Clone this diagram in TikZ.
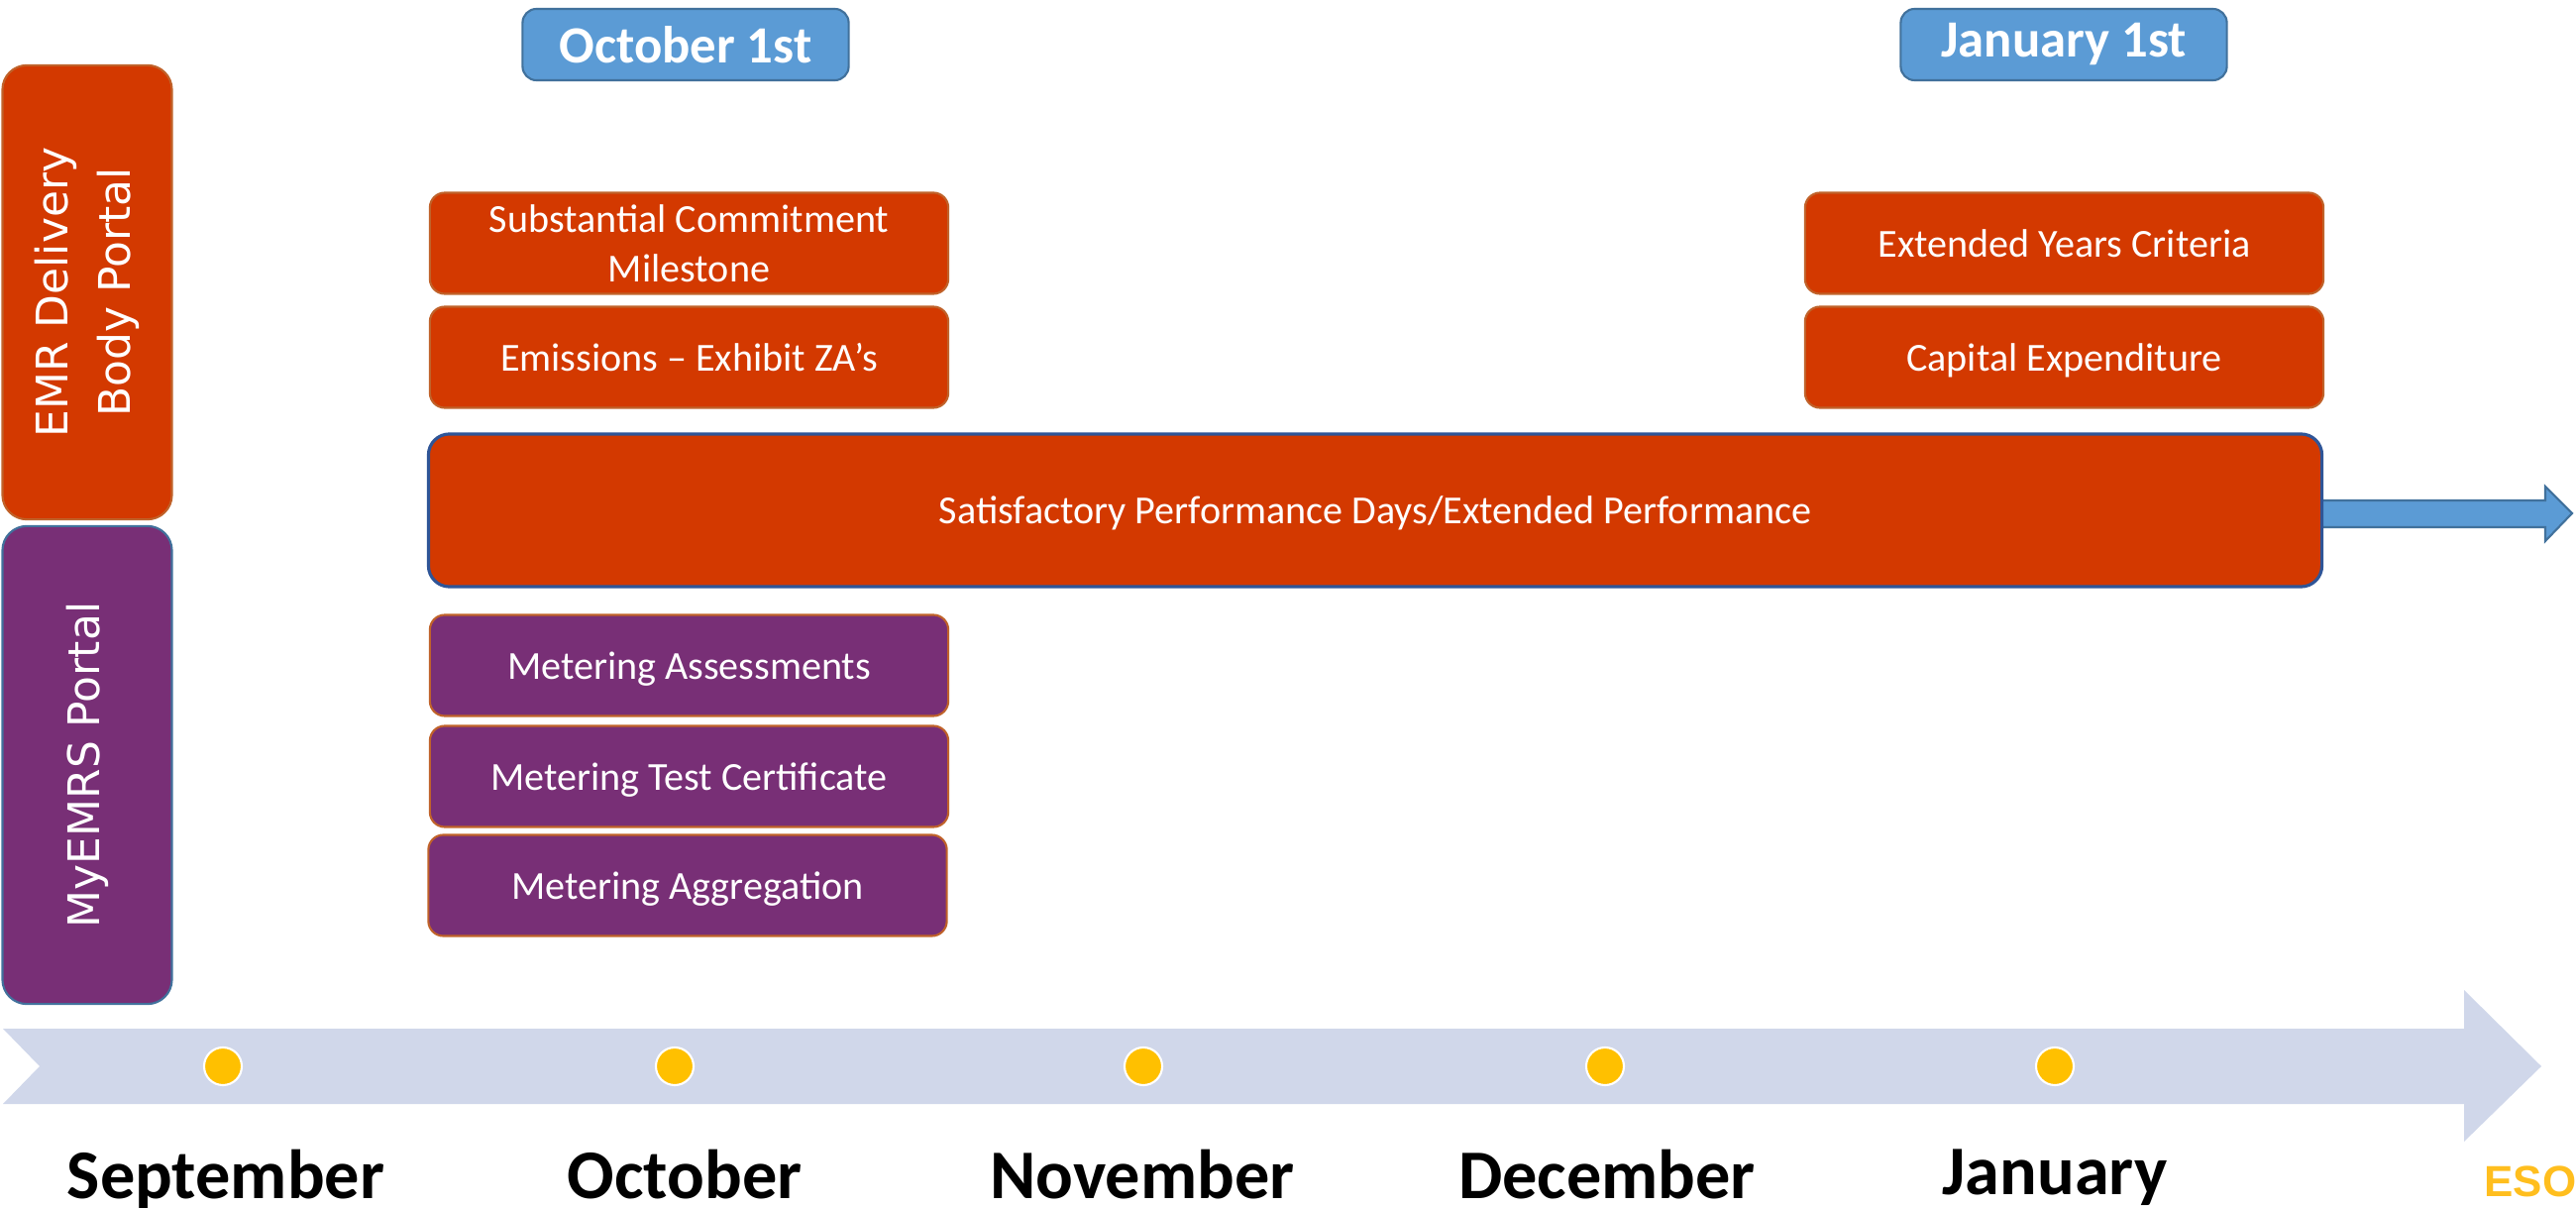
\documentclass[tikz,border=0pt]{standalone}
\usepackage{fontspec}
\setmainfont{Carlito}
\newfontfamily\verdfont{DejaVu Sans}
\newfontfamily\arialfont{Liberation Sans}
\usetikzlibrary{calc}
\definecolor{ored}{HTML}{D33900}
\definecolor{oedge}{HTML}{C0622A}
\definecolor{purp}{HTML}{782F76}
\definecolor{bluef}{HTML}{5B9BD5}
\definecolor{blueedge}{HTML}{41719C}
\definecolor{darkblue}{HTML}{2F5597}
\definecolor{band}{HTML}{D0D7EA}
\definecolor{dotc}{HTML}{FFC000}
\definecolor{esoc}{HTML}{FFBE1E}
\begin{document}
\begin{tikzpicture}[x=0.01cm,y=-0.01cm,
  obox/.style={draw=oedge, fill=ored, line width=0.6pt, rounded corners=4.3pt, text=white, align=center,
    font=\fontsize{11.4}{14.2}\selectfont, minimum width=5.23cm, minimum height=1.02cm, inner sep=0pt, text depth=0pt},
  pbox/.style={obox, fill=purp},
  datebox/.style={draw=blueedge, fill=bluef, line width=0.6pt, rounded corners=4pt, text=white,
    font=\bfseries\fontsize{15}{18}\selectfont, minimum width=3.29cm, minimum height=0.72cm, inner sep=0pt},
  sidebox/.style={rotate=90, rounded corners=7pt, text=white, align=center,
    font=\verdfont\fontsize{12.5}{18}\selectfont, minimum height=1.71cm, inner sep=0pt, line width=0.6pt},
  month/.style={anchor=base, font=\bfseries\fontsize{20}{24}\selectfont},
  tdot/.style={circle, fill=dotc, draw=white, line width=0.6pt, minimum size=0.38cm, inner sep=0pt}]
\useasboundingbox (0,0) rectangle (2600,1219);

% timeline band
\fill[band] (3,1038) -- (2487,1038) -- (2487,999) -- (2565,1076) -- (2487,1152) -- (2487,1114)
  -- (3,1114) -- (40,1076) -- cycle;

% date boxes
\node[datebox] (oct1) at (692,45) {October 1st};
\node[datebox] (jan1) at (2083,45) {January 1st};

% side boxes
\node[sidebox, fill=ored, draw=oedge, minimum width=4.58cm] (emr) at (88,295) {EMR Delivery\\Body Portal};
\node[sidebox, fill=purp, draw=blueedge, minimum width=4.82cm] (myemrs) at (88,772) {MyEMRS Portal};

% task boxes
\node[obox] (scm) at (695.5,245.5) {Substantial Commitment\\Milestone};
\node[obox] (emis) at (695.5,360.5) {Emissions – Exhibit ZA’s};
\node[obox] (eyc) at (2083.5,245.5) {Extended Years Criteria};
\node[obox] (capex) at (2083.5,360.5) {Capital Expenditure};

% continuation arrow
\coordinate (spdtip) at (2596,518);
\draw[draw=blueedge, fill=bluef, line width=0.6pt] (2330,505) -- (2569,505) -- (2569,491) -- (spdtip)
  -- (2569,546) -- (2569,532) -- (2330,532);

\node[obox, draw=darkblue, line width=0.9pt, minimum width=19.10cm, minimum height=1.54cm, rounded corners=6pt]
  (spd) at (1388,515) {Satisfactory Performance Days/Extended Performance};

\node[pbox] (ma) at (695.5,671.5) {Metering Assessments};
\node[pbox] (mtc) at (695.5,783.5) {Metering Test Certificate};
\node[pbox] (mag) at (694,893.5) {Metering Aggregation};

% dots
\node[tdot] (d1) at (225,1076) {};
\node[tdot] (d2) at (681,1076) {};
\node[tdot] (d3) at (1154,1076) {};
\node[tdot] (d4) at (1620,1076) {};
\node[tdot] (d5) at (2074,1076) {};

% months
\node[month] (msep) at (228,1209) {September};
\node[month] (moct) at (691,1209) {October};
\node[month] (mnov) at (1153,1209) {November};
\node[month] (mdec) at (1622,1209) {December};
\node[month] (mjan) at (2074,1205) {January};

\node[anchor=base, font=\arialfont\bfseries\fontsize{12.5}{15}\selectfont, text=esoc] (eso) at (2554,1207) {ESO};
\end{tikzpicture}
\end{document}
